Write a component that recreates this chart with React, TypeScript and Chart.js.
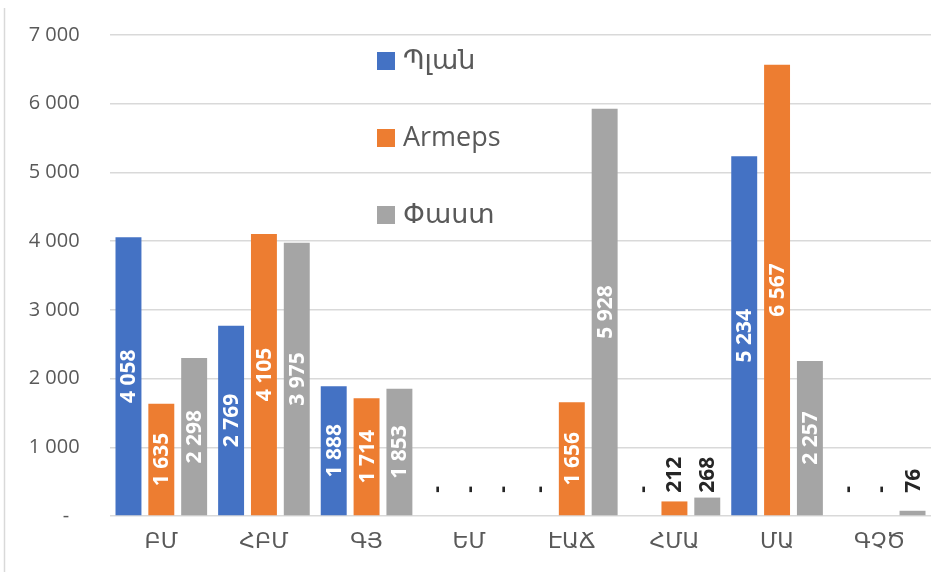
import React, { useEffect, useRef } from "react";
import { Chart, registerables } from "chart.js";

Chart.register(...registerables);

const categories = ["ԲՄ", "ՀԲՄ", "ԳՅ", "ԵՄ", "ԷԱՃ", "ՀՄԱ", "ՄԱ", "ԳՉԾ"];
const seriesNames = ["Պլան", "Armeps", "Փաստ"];
const planValues = [4058, 2769, 1888, 0, 0, 0, 5234, 0];
const armepsValues = [1635, 4105, 1714, 0, 1656, 212, 6567, 0];
const factValues = [2298, 3975, 1853, 0, 5928, 268, 2257, 76];
const seriesColors = ["#4472C4", "#ED7D31", "#A5A5A5"];
const yMax = 7000;
const yStep = 1000;

const FONT = "'Open Sans', 'DejaVu Sans', sans-serif";

function fmt(n: number): string {
  return n.toString().replace(/\B(?=(\d{3})+(?!\d))/g, " ");
}

const labelPlugin = {
  id: "barLabels",
  afterDatasetsDraw(chart: any) {
    const ctx = chart.ctx;
    const yScale = chart.scales.y;
    ctx.save();
    ctx.font = `bold 21px ${FONT}`;
    ctx.textBaseline = "middle";
    chart.data.datasets.forEach((ds: any, di: number) => {
      const meta = chart.getDatasetMeta(di);
      meta.data.forEach((bar: any, i: number) => {
        const v = ds.data[i];
        const { x, y, base } = bar.getProps(["x", "y", "base"], true);
        ctx.save();
        if (v >= 1000) {
          ctx.translate(x, (y + base) / 2);
          ctx.rotate(-Math.PI / 2);
          ctx.textAlign = "center";
          ctx.fillStyle = "#ffffff";
          ctx.fillText(fmt(v), 0, 1);
        } else {
          const limit = yScale.getPixelForValue(280);
          const start = Math.min(y, limit) - 4;
          ctx.translate(x, start);
          ctx.rotate(-Math.PI / 2);
          ctx.textAlign = "left";
          ctx.fillStyle = "#262626";
          ctx.fillText(v === 0 ? "-" : fmt(v), 0, 1);
        }
        ctx.restore();
      });
    });
    ctx.restore();
  },
};

const legendPlugin = {
  id: "customLegend",
  afterDraw(chart: any) {
    const ctx = chart.ctx;
    const area = chart.chartArea;
    const x0 = area.left + 267;
    const y0 = area.top + 26;
    const gap = 77;
    ctx.save();
    ctx.font = `27px ${FONT}`;
    ctx.textBaseline = "middle";
    ctx.textAlign = "left";
    chart.data.datasets.forEach((ds: any, i: number) => {
      const cy = y0 + i * gap;
      ctx.fillStyle = ds.backgroundColor;
      ctx.fillRect(x0, cy - 9, 18, 18);
      ctx.fillStyle = "#595959";
      ctx.fillText(ds.label, x0 + 26, cy);
    });
    ctx.restore();
  },
};

const framePlugin = {
  id: "frame",
  beforeDraw(chart: any) {
    const ctx = chart.ctx;
    ctx.save();
    ctx.fillStyle = "#ffffff";
    ctx.fillRect(0, 0, chart.width, chart.height);
    ctx.strokeStyle = "#d9d9d9";
    ctx.lineWidth = 1.5;
    ctx.beginPath();
    ctx.moveTo(4.5, 8);
    ctx.lineTo(4.5, chart.height);
    ctx.stroke();
    ctx.restore();
  },
};

export default function App() {
  const ref = useRef<HTMLCanvasElement>(null);
  useEffect(() => {
    document.body.style.margin = "0";
    const seriesData = [planValues, armepsValues, factValues];
    const chart = new Chart(ref.current as HTMLCanvasElement, {
      type: "bar",
      data: {
        labels: categories,
        datasets: seriesNames.map((name, i) => ({
          label: name,
          data: seriesData[i],
          backgroundColor: seriesColors[i],
          borderWidth: 0,
          barPercentage: 0.79,
          categoryPercentage: 0.96,
        })),
      },
      options: {
        animation: false,
        responsive: false,
        layout: { padding: { top: 35, right: 19, left: 0, bottom: 0 } },
        plugins: {
          legend: { display: false },
          tooltip: { enabled: false },
        },
        scales: {
          x: {
            grid: { display: false, drawTicks: false },
            border: { display: false },
            ticks: {
              padding: 13,
              color: "#595959",
              font: { family: FONT, size: 22 },
              maxRotation: 0,
            },
            afterFit(scale: any) {
              scale.height = 56;
            },
          },
          y: {
            min: 0,
            max: yMax,
            grid: { color: "#d9d9d9", lineWidth: 1.5, drawTicks: false },
            border: { display: false },
            ticks: {
              stepSize: yStep,
              padding: 20,
              color: "#595959",
              font: { family: FONT, size: 20 },
              callback: (v: any) => (Number(v) === 0 ? "-    " : fmt(Number(v)) + "  "),
            },
            afterFit(scale: any) {
              scale.width = 110;
            },
          },
        },
      },
      plugins: [framePlugin, labelPlugin, legendPlugin],
    });
    return () => chart.destroy();
  }, []);
  return (
    <div style={{ width: 950, height: 572 }}>
      <canvas ref={ref} width={950} height={572} style={{ width: 950, height: 572, display: "block" }} />
    </div>
  );
}
